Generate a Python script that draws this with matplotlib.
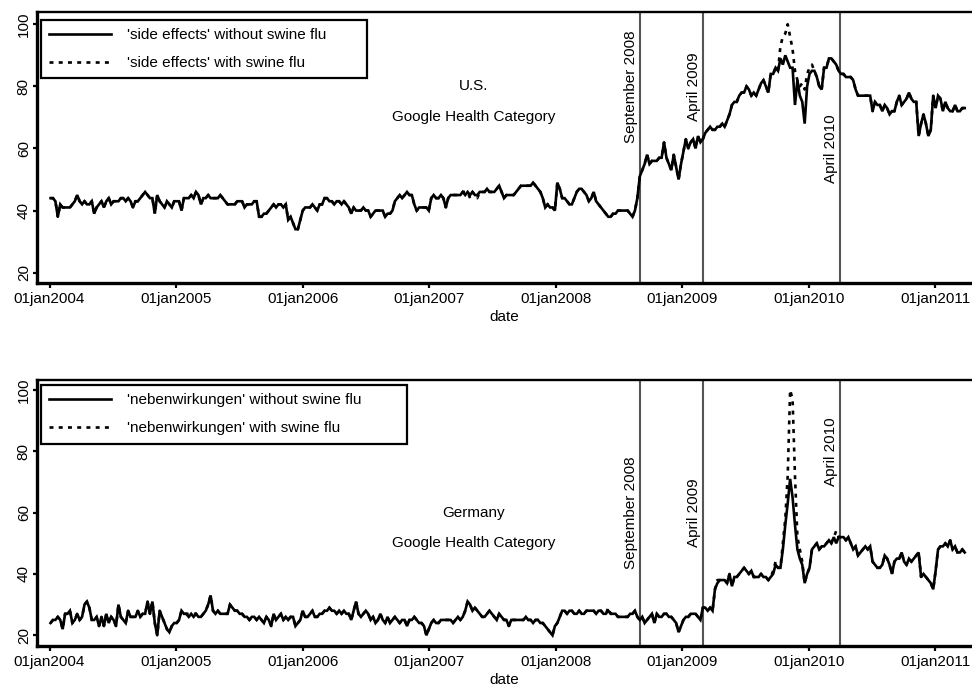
import numpy as np
import pandas as pd
import matplotlib
matplotlib.use('Agg')
import matplotlib.pyplot as plt
from matplotlib import font_manager

# weekly search index, Google Health Category
us_without = [
    44, 44, 43, 38, 42, 41, 41, 41, 41, 42, 43, 45, 43, 42, 43, 42, 42, 43, 39, 41,
    42, 43, 41, 43, 44, 42, 43, 43, 43, 44, 44, 43, 44, 43, 41, 43, 43, 44, 45, 46,
    45, 44, 44, 39, 45, 43, 42, 41, 43, 42, 41, 43, 43, 43, 40, 44, 44, 44, 45, 44,
    46, 45, 42, 44, 44, 45, 44, 44, 44, 44, 45, 44, 43, 42, 42, 42, 42, 43, 43, 43,
    41, 42, 42, 42, 43, 43, 38, 38, 39, 39, 40, 41, 42, 41, 42, 42, 41, 42, 37, 38,
    36, 34, 34, 37, 40, 41, 41, 41, 42, 41, 40, 42, 42, 44, 44, 43, 43, 42, 43, 43,
    42, 43, 42, 41, 39, 41, 40, 40, 40, 41, 40, 40, 38, 39, 40, 40, 40, 40, 38, 39,
    39, 40, 43, 44, 45, 44, 45, 46, 45, 45, 42, 40, 41, 41, 41, 41, 40, 44, 45, 44,
    44, 45, 44, 41, 44, 45, 45, 45, 45, 45, 46, 45, 46, 45, 46, 45, 45, 46, 46, 46,
    47, 46, 46, 46, 47, 48, 46, 44, 45, 45, 45, 45, 46, 47, 48, 48, 48, 48, 48, 49,
    48, 47, 46, 44, 41, 42, 41, 41, 40, 49, 47, 44, 44, 43, 42, 42, 44, 46, 47, 47,
    46, 45, 43, 44, 46, 43, 42, 41, 40, 39, 38, 38, 39, 39, 40, 40, 40, 40, 40, 39,
    38, 40, 44, 51, 53, 55, 58, 55, 56, 56, 56, 57, 57, 62, 57, 55, 53, 58, 54, 50,
    55, 59, 63, 60, 62, 63, 60, 64, 62, 63, 65, 66, 67, 66, 66, 67, 67, 68, 67, 69,
    71, 74, 75, 75, 77, 78, 78, 80, 79, 77, 78, 77, 79, 81, 82, 80, 78, 84, 84, 86,
    85, 89, 87, 90, 88, 86, 86, 74, 82, 77, 75, 68, 80, 84, 85, 85, 83, 80, 79, 86,
    86, 89, 89, 88, 87, 85, 84, 84, 83, 83, 83, 82, 79, 77, 77, 77, 77, 77, 77, 72,
    75, 74, 74, 72, 74, 73, 71, 72, 72, 75, 77, 74, 75, 76, 78, 76, 75, 75, 64, 68,
    71, 68, 64, 66, 77, 73, 77, 76, 72, 75, 73, 72, 72, 74, 72, 72, 73, 73,
]
us_with = [
    44, 44, 43, 38, 42, 41, 41, 41, 41, 42, 43, 45, 43, 42, 43, 42, 42, 43, 39, 41,
    42, 43, 41, 43, 44, 42, 43, 43, 43, 44, 44, 43, 44, 43, 41, 43, 43, 44, 45, 46,
    45, 44, 44, 39, 45, 43, 42, 41, 43, 42, 41, 43, 43, 43, 40, 44, 44, 44, 45, 44,
    46, 45, 42, 44, 44, 45, 44, 44, 44, 44, 45, 44, 43, 42, 42, 42, 42, 43, 43, 43,
    41, 42, 42, 42, 43, 43, 38, 38, 39, 39, 40, 41, 42, 41, 42, 42, 41, 42, 37, 38,
    36, 34, 34, 37, 40, 41, 41, 41, 42, 41, 40, 42, 42, 44, 44, 43, 43, 42, 43, 43,
    42, 43, 42, 41, 39, 41, 40, 40, 40, 41, 40, 40, 38, 39, 40, 40, 40, 40, 38, 39,
    39, 40, 43, 44, 45, 44, 45, 46, 45, 45, 42, 40, 41, 41, 41, 41, 40, 44, 45, 44,
    44, 45, 44, 41, 44, 45, 45, 45, 45, 45, 46, 46, 46, 44, 46, 45, 44, 46, 46, 46,
    47, 46, 46, 46, 47, 48, 46, 44, 45, 45, 45, 45, 46, 47, 48, 48, 48, 48, 48, 49,
    48, 47, 46, 44, 41, 42, 41, 41, 40, 49, 47, 44, 44, 43, 42, 42, 44, 46, 47, 47,
    46, 45, 43, 44, 46, 43, 42, 41, 40, 39, 38, 38, 39, 39, 40, 40, 40, 40, 40, 39,
    38, 40, 44, 51, 53, 55, 58, 55, 56, 56, 56, 57, 57, 62, 57, 55, 53, 58, 54, 50,
    55, 59, 63, 60, 62, 63, 60, 64, 62, 63, 65, 66, 67, 66, 66, 67, 67, 68, 67, 69,
    71, 74, 75, 75, 77, 78, 78, 80, 79, 77, 78, 77, 79, 81, 82, 80, 78, 84, 84, 86,
    85, 93, 96, 97, 100, 96, 92, 85, 82, 80, 81, 79, 84, 86, 87, 85, 83, 80, 79, 86,
    86, 89, 89, 88, 87, 85, 84, 84, 83, 83, 83, 82, 79, 77, 77, 77, 77, 77, 77, 72,
    75, 74, 74, 72, 74, 73, 71, 72, 72, 75, 77, 74, 75, 76, 78, 76, 75, 75, 64, 68,
    71, 68, 64, 66, 77, 73, 77, 76, 72, 75, 73, 72, 72, 74, 72, 72, 73, 73,
]
de_without = [
    24, 25, 25, 26, 25, 22, 27, 27, 28, 24, 25, 27, 25, 26, 30, 31, 29, 25, 25, 26,
    23, 26, 23, 27, 24, 26, 25, 23, 30, 26, 25, 24, 28, 26, 26, 26, 28, 26, 27, 27,
    31, 27, 31, 24, 20, 28, 26, 24, 22, 21, 23, 24, 24, 25, 28, 27, 27, 26, 27, 26,
    27, 26, 26, 27, 28, 30, 33, 28, 27, 28, 27, 27, 27, 27, 30, 29, 28, 28, 27, 27,
    26, 26, 25, 26, 26, 25, 26, 25, 24, 26, 25, 23, 27, 25, 26, 27, 25, 26, 25, 26,
    26, 23, 24, 25, 28, 26, 26, 27, 28, 26, 26, 27, 27, 28, 28, 29, 28, 28, 27, 28,
    27, 28, 27, 27, 25, 28, 31, 27, 26, 27, 28, 27, 25, 26, 24, 25, 27, 25, 24, 26,
    24, 25, 26, 25, 24, 25, 25, 23, 25, 25, 26, 25, 24, 24, 23, 20, 22, 24, 25, 24,
    24, 25, 25, 25, 25, 25, 24, 25, 26, 25, 26, 28, 31, 30, 28, 29, 28, 27, 26, 26,
    27, 28, 27, 26, 25, 27, 26, 25, 25, 23, 25, 25, 25, 25, 25, 25, 26, 25, 25, 24,
    25, 25, 24, 24, 23, 22, 21, 20, 23, 24, 26, 28, 28, 27, 28, 28, 27, 27, 28, 27,
    27, 28, 28, 28, 28, 27, 28, 28, 27, 27, 28, 27, 27, 27, 26, 26, 26, 26, 26, 27,
    27, 28, 26, 25, 26, 24, 25, 26, 27, 24, 27, 26, 26, 27, 27, 26, 26, 25, 24, 21,
    23, 25, 26, 26, 27, 27, 27, 26, 25, 29, 29, 28, 29, 28, 35, 37, 38, 38, 38, 37,
    40, 36, 39, 39, 40, 41, 42, 41, 40, 41, 39, 39, 39, 40, 39, 39, 38, 39, 40, 43,
    42, 42, 48, 56, 63, 71, 65, 56, 48, 45, 43, 37, 40, 42, 48, 49, 50, 48, 49, 49,
    50, 51, 50, 52, 50, 52, 52, 52, 51, 52, 50, 48, 49, 46, 47, 48, 49, 48, 49, 44,
    43, 42, 42, 43, 46, 45, 43, 40, 44, 45, 45, 47, 44, 43, 45, 44, 45, 46, 47, 39,
    40, 39, 38, 37, 35, 41, 48, 49, 49, 50, 49, 51, 48, 49, 47, 47, 48, 47,
]
de_with = [
    24, 25, 25, 26, 25, 22, 27, 27, 28, 24, 25, 27, 25, 26, 30, 31, 29, 25, 25, 26,
    23, 26, 23, 27, 24, 26, 25, 23, 30, 26, 25, 24, 28, 26, 26, 26, 28, 26, 27, 27,
    31, 27, 31, 24, 20, 28, 26, 24, 22, 21, 23, 24, 24, 25, 28, 27, 27, 27, 27, 27,
    27, 26, 26, 27, 28, 30, 33, 28, 27, 28, 27, 27, 27, 27, 30, 29, 28, 28, 27, 27,
    26, 26, 25, 26, 26, 25, 26, 25, 24, 26, 25, 23, 27, 25, 26, 27, 25, 26, 25, 26,
    26, 23, 24, 25, 28, 26, 26, 27, 28, 26, 26, 27, 27, 28, 28, 29, 28, 28, 27, 28,
    27, 28, 27, 27, 25, 28, 31, 27, 26, 27, 28, 27, 25, 26, 24, 25, 27, 25, 24, 26,
    24, 25, 26, 25, 24, 25, 25, 23, 25, 25, 26, 25, 24, 24, 23, 20, 22, 24, 25, 24,
    24, 25, 25, 25, 25, 25, 24, 25, 26, 25, 26, 28, 31, 30, 28, 29, 28, 27, 26, 26,
    27, 28, 27, 26, 25, 27, 26, 25, 25, 23, 25, 25, 25, 25, 25, 25, 26, 25, 25, 24,
    25, 25, 24, 24, 23, 22, 21, 20, 23, 24, 26, 28, 28, 27, 28, 28, 27, 27, 28, 27,
    27, 28, 28, 28, 28, 27, 28, 28, 27, 27, 29, 27, 27, 27, 26, 26, 26, 26, 26, 27,
    27, 28, 26, 25, 26, 24, 25, 26, 27, 24, 27, 26, 26, 27, 27, 26, 26, 25, 24, 21,
    23, 25, 26, 26, 27, 27, 27, 26, 25, 29, 29, 28, 29, 28, 35, 38, 38, 38, 38, 37,
    40, 36, 39, 39, 40, 41, 42, 41, 40, 41, 39, 39, 39, 40, 39, 39, 38, 39, 41, 44,
    42, 42, 50, 58, 72, 100, 97, 72, 52, 48, 44, 37, 40, 42, 48, 49, 50, 48, 49, 49,
    50, 51, 50, 52, 54, 52, 52, 52, 51, 52, 50, 48, 49, 46, 47, 48, 49, 48, 49, 44,
    43, 42, 42, 43, 46, 45, 43, 40, 44, 45, 45, 47, 44, 43, 45, 44, 45, 46, 47, 39,
    40, 39, 38, 37, 35, 41, 48, 49, 49, 50, 49, 51, 48, 49, 47, 47, 48, 47,
]

dates = pd.date_range('2004-01-04', periods=len(us_without), freq='7D')

tick_dates = pd.to_datetime(['2004-01-01', '2005-01-01', '2006-01-01', '2007-01-01',
                             '2008-01-01', '2009-01-01', '2010-01-01', '2011-01-01'])
tick_labels = ['01jan2004', '01jan2005', '01jan2006', '01jan2007',
               '01jan2008', '01jan2009', '01jan2010', '01jan2011']
y_ticks = [20, 40, 60, 80, 100]

event_dates = pd.to_datetime(['2008-09-01', '2009-03-01', '2010-04-01'])
event_labels = ['September 2008', 'April 2009', 'April 2010']

# fonts: Arial-like for text, narrow variant for the tick labels
try:
    font_manager.findfont('Liberation Sans Narrow', fallback_to_default=False)
    narrow = 'Liberation Sans Narrow'
except Exception:
    narrow = 'Liberation Sans'
plt.rcParams['font.family'] = ['Liberation Sans', 'DejaVu Sans']

fig = plt.figure(figsize=(9.72, 6.94), dpi=100)
ax1 = fig.add_axes([0.0381, 0.5927, 0.9619, 0.3898])
ax2 = fig.add_axes([0.0381, 0.0689, 0.9619, 0.3839])

panels = [
    (ax1, us_without, us_with, 'side effects', (16.78, 103.9), [80, 80, 60],
     ['U.S.', 'Google Health Category'], [80, 70], 0.3487, 0.9719),
    (ax2, de_without, de_with, 'nebenwirkungen', (16.44, 103.33), [60, 60, 80],
     ['Germany', 'Google Health Category'], [60, 50], 0.3918, 0.9805),
]

for ax, s_wo, s_w, term, ylim, ev_y, notes, note_y, leg_w, leg_top in panels:
    l_wo, = ax.plot(dates, s_wo, color='black', lw=1.9, solid_joinstyle='miter',
                    label="'%s' without swine flu" % term, zorder=3)
    l_w, = ax.plot(dates, s_w, color='black', lw=1.9, linestyle=(0, (1.5, 2.0)),
                   label="'%s' with swine flu" % term, zorder=2)

    for d, lbl, yy in zip(event_dates, event_labels, ev_y):
        ax.axvline(d, color='#555555', lw=1.5, zorder=1)
        ax.annotate(lbl, xy=(d, yy), xytext=(-1.5, 0), textcoords='offset points',
                    rotation=90, ha='right', va='center', fontsize=11)

    for txt, yy in zip(notes, note_y):
        ax.text(pd.Timestamp('2007-05-10'), yy, txt, ha='center', va='center', fontsize=11)

    ax.set_xlim(pd.Timestamp('2003-11-26'), pd.Timestamp('2011-04-17'))
    ax.set_ylim(*ylim)
    ax.set_xticks(tick_dates)
    ax.set_xticklabels(tick_labels, fontfamily=narrow, fontsize=11)
    ax.set_yticks(y_ticks)
    ax.set_yticklabels([str(v) for v in y_ticks], fontfamily=narrow, fontsize=11,
                       rotation=90, va='center')
    ax.tick_params(axis='x', direction='out', length=3.5, width=1.6, pad=3)
    ax.tick_params(axis='y', direction='out', length=3, width=1.6, pad=1.5)
    ax.set_xlabel('date', fontsize=11, labelpad=3)

    ax.spines['right'].set_visible(False)
    ax.spines['left'].set_linewidth(2.4)
    ax.spines['bottom'].set_linewidth(2.4)
    ax.spines['top'].set_linewidth(1.7)

    leg = ax.legend(handles=[l_wo, l_w], loc='upper left', mode='expand',
                    bbox_to_anchor=(0.0043, leg_top - 0.3, leg_w, 0.3),
                    borderaxespad=0, fontsize=11, handlelength=4.0, handletextpad=1.1,
                    labelspacing=0.9, borderpad=0.55, fancybox=False, framealpha=1,
                    edgecolor='black')
    leg.get_frame().set_linewidth(1.6)

fig.savefig('out.png', dpi=100)
